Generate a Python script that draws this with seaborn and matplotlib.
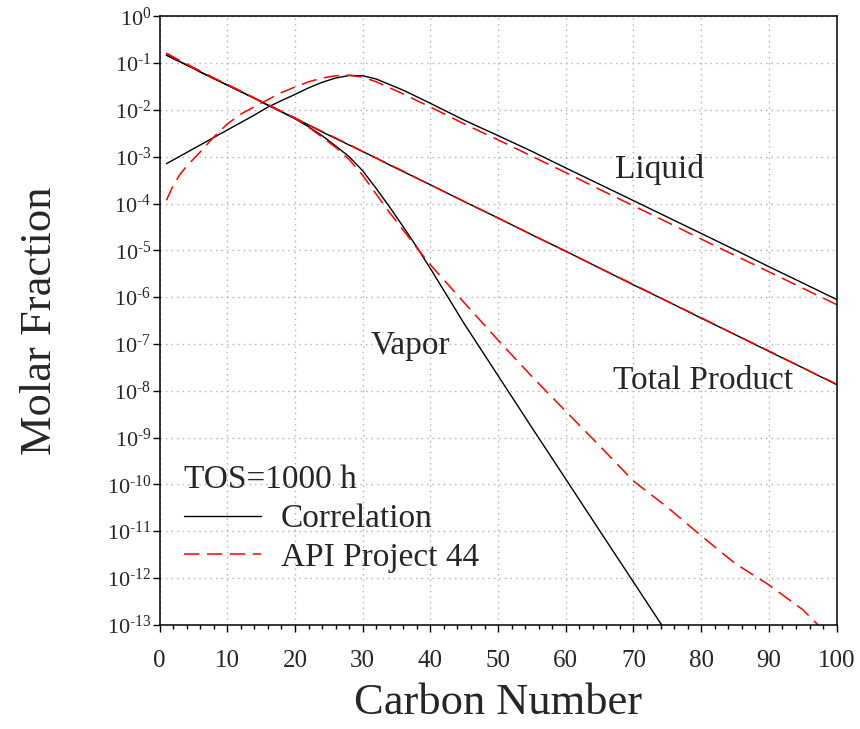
import matplotlib
matplotlib.use("Agg")
import math
import matplotlib.pyplot as plt
from matplotlib.lines import Line2D
from matplotlib.ticker import LogLocator, MultipleLocator, NullLocator, FuncFormatter
import pandas as pd
import seaborn as sns

# Carbon numbers at which the distributions are tabulated
carbon = [1, 2, 3, 4, 5, 6, 8, 10, 12, 14, 16, 18, 20, 22, 24, 26, 28, 30,
          32, 34, 36, 38, 40, 45, 50, 55, 60, 65, 70, 75, 80, 85, 90, 95, 100]

# Correlation (solid black)
corr_total = [0.148, 0.126, 0.107, 0.0912, 0.0776, 0.0646, 0.0468, 0.0339,
              0.0245, 0.0178, 0.0126, 0.00912, 0.00661, 0.00479, 0.00339,
              0.00245, 0.00178, 0.00129, 9.33e-4, 6.61e-4, 4.79e-4, 3.47e-4,
              2.51e-4, 1.10e-4, 4.90e-5, 2.14e-5, 9.55e-6, 4.17e-6, 1.82e-6,
              8.13e-7, 3.55e-7, 1.58e-7, 6.92e-8, 3.09e-8, 1.35e-8]
corr_vapor = [0.148, 0.126, 0.107, 0.0912, 0.0776, 0.0646, 0.0468, 0.0339,
              0.0245, 0.0178, 0.0126, 0.00912, 0.00646, 0.00437, 0.00282,
              0.00170, 1.00e-3, 5.01e-4, 2.09e-4, 8.32e-5, 3.16e-5, 1.17e-5,
              4.07e-6, 2.69e-7, 2.09e-8, 1.62e-9, 1.29e-10, 1.02e-11,
              8.13e-13, 6.46e-14]
corr_liquid = [7.08e-4, 8.51e-4, 1.02e-3, 1.23e-3, 1.48e-3, 1.78e-3, 2.57e-3,
               3.72e-3, 5.37e-3, 7.76e-3, 1.15e-2, 1.58e-2, 2.14e-2, 2.95e-2,
               3.89e-2, 4.79e-2, 5.43e-2, 5.37e-2, 4.57e-2, 3.47e-2, 2.63e-2,
               1.91e-2, 1.38e-2, 6.03e-3, 2.82e-3, 1.30e-3, 5.75e-4, 2.57e-4,
               1.15e-4, 5.13e-5, 2.29e-5, 1.02e-5, 4.47e-6, 2.00e-6, 8.91e-7]

# API Project 44 (dashed red)
api_total = [0.162, 0.135, 0.112, 0.0955, 0.0794, 0.0676, 0.0479, 0.0347,
             0.0251, 0.0178, 0.0129, 0.00933, 0.00676, 0.00479, 0.00347,
             0.00251, 0.00182, 0.00129, 9.33e-4, 6.76e-4, 4.90e-4, 3.47e-4,
             2.51e-4, 1.10e-4, 4.90e-5, 2.14e-5, 9.55e-6, 4.17e-6, 1.86e-6,
             8.13e-7, 3.63e-7, 1.58e-7, 7.08e-8, 3.09e-8, 1.38e-8]
api_vapor = [0.162, 0.135, 0.112, 0.0955, 0.0794, 0.0676, 0.0479, 0.0347,
             0.0251, 0.0178, 0.0129, 0.00933, 0.00661, 0.00427, 0.00263,
             0.00158, 8.71e-4, 3.98e-4, 1.58e-4, 6.31e-5, 2.69e-5, 1.12e-5,
             4.90e-6, 7.59e-7, 1.20e-7, 2.00e-8, 3.63e-9, 6.61e-10,
             1.17e-10, 3.24e-11, 7.94e-12, 2.04e-12, 7.08e-13, 2.09e-13,
             3.98e-14]
api_liquid = [1.17e-4, 2.40e-4, 4.17e-4, 6.31e-4, 8.91e-4, 1.26e-3, 2.63e-3,
              5.01e-3, 8.13e-3, 1.17e-2, 1.66e-2, 2.34e-2, 3.09e-2, 3.98e-2,
              4.79e-2, 5.37e-2, 5.52e-2, 5.01e-2, 3.98e-2, 2.95e-2, 2.19e-2,
              1.58e-2, 1.15e-2, 5.01e-3, 2.29e-3, 1.02e-3, 4.57e-4, 2.00e-4,
              8.91e-5, 3.98e-5, 1.74e-5, 7.76e-6, 3.47e-6, 1.55e-6, 6.92e-7]

series = [
    ("Total Product", "Correlation", corr_total),
    ("Vapor", "Correlation", corr_vapor),
    ("Liquid", "Correlation", corr_liquid),
    ("Total Product", "API Project 44", api_total),
    ("Vapor", "API Project 44", api_vapor),
    ("Liquid", "API Project 44", api_liquid),
]
df = pd.concat(
    [pd.DataFrame({"carbon": carbon[:len(vals)], "fraction": vals,
                   "phase": phase, "source": source})
     for phase, source, vals in series],
    ignore_index=True,
)

sns.set_style("ticks")
plt.rcParams["font.family"] = ["Liberation Serif", "DejaVu Serif"]
plt.rcParams["mathtext.fontset"] = "custom"
plt.rcParams["mathtext.rm"] = "Liberation Serif"
plt.rcParams["mathtext.it"] = "Liberation Serif:italic"
plt.rcParams["mathtext.bf"] = "Liberation Serif:bold"

fig = plt.figure(figsize=(8.6, 7.29), dpi=100)
ax = fig.add_axes([0.18558, 0.14307, 0.78721, 0.83457])

red_dash = (10, 5)
sns.lineplot(data=df[df["source"] == "Correlation"], x="carbon", y="fraction",
             units="phase", estimator=None, sort=False, color="black",
             linewidth=1.0, legend=False, ax=ax)
sns.lineplot(data=df[df["source"] == "API Project 44"], x="carbon", y="fraction",
             units="phase", estimator=None, sort=False, color="red",
             linewidth=1.1, dashes=False, legend=False, ax=ax)
for line in ax.get_lines()[3:]:
    line.set_dashes(red_dash)

ax.set_yscale("log")
ax.set_xlim(0, 100)
ax.set_ylim(1e-13, 1)


def decade_label(value, pos):
    exp = int(round(math.log10(value)))
    sign = r"\text{-}" if exp < 0 else ""
    return r"$\mathregular{10^{%s%d}}$" % (sign, abs(exp))


ax.xaxis.set_major_locator(MultipleLocator(10))
ax.xaxis.set_minor_locator(MultipleLocator(2))
ax.yaxis.set_major_locator(LogLocator(base=10, numticks=30))
ax.yaxis.set_minor_locator(NullLocator())
ax.yaxis.set_major_formatter(FuncFormatter(decade_label))

ax.grid(True, which="major", linestyle=(0, (1, 3)), color="#b0b0b0", linewidth=1.0)
for s in ax.spines.values():
    s.set_visible(True)
    s.set_color("black")
    s.set_linewidth(1.1)

ax.tick_params(axis="y", which="major", direction="out", length=5, width=1,
               labelsize=16, pad=1, right=False, color="black")
ax.tick_params(axis="x", which="major", direction="out", length=5, width=1,
               labelsize=18, pad=13, top=False, color="black")
ax.tick_params(axis="x", which="minor", direction="out", length=3, width=1,
               top=False, bottom=True, color="black")

ax.set_xlabel("Carbon Number", fontsize=32, labelpad=8)
ax.set_ylabel("Molar Fraction", fontsize=32, labelpad=34)

ax.text(67.3, 3.5e-4, "Liquid", fontsize=24, ha="left", va="baseline")
ax.text(66.9, 1.08e-8, "Total Product", fontsize=24, ha="left", va="baseline")
ax.text(31.1, 6.1e-8, "Vapor", fontsize=24, ha="left", va="baseline")

handles = [Line2D([], [], color="black", linewidth=1.0),
           Line2D([], [], color="red", linewidth=1.1, dashes=red_dash)]
ax.legend(handles, ["Correlation", "API Project 44"], title="TOS=1000 h",
          loc="upper left", bbox_to_anchor=(0.036, 0.2625), frameon=False,
          fontsize=24, title_fontsize=24, handlelength=2.3, handletextpad=0.6,
          labelspacing=0.25, alignment="left", borderpad=0, borderaxespad=0)

fig.savefig("out.png", dpi=100)
